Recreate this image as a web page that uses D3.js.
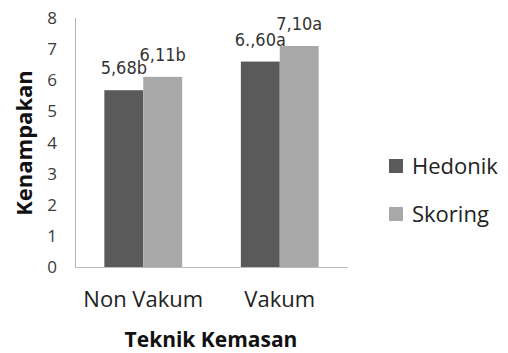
<!DOCTYPE html>
<html>
<head>
<meta charset="utf-8">
<script src="https://cdn.jsdelivr.net/npm/d3@7"></script>
<style>
  html, body { margin: 0; padding: 0; background: #fff; }
</style>
</head>
<body>
<div id="chart"></div>
<script>
  const categories = ["Non Vakum", "Vakum"];
  const seriesNames = ["Hedonik", "Skoring"];
  const hedonik = [5.68, 6.60];
  const skoring = [6.11, 7.10];
  const hedonikLabels = ["5,68b", "6.,60a"];
  const skoringLabels = ["6,11b", "7,10a"];
  const yTicks = [0, 1, 2, 3, 4, 5, 6, 7, 8];

  const colors = { Hedonik: "#5a5a5a", Skoring: "#a8a8a8" };

  const width = 508, height = 353;
  const margin = { top: 18, right: 160, bottom: 86, left: 75 };
  const innerW = width - margin.left - margin.right;
  const innerH = height - margin.top - margin.bottom;

  const svg = d3.select("#chart").append("svg")
    .attr("width", width)
    .attr("height", height);

  const g = svg.append("g")
    .attr("transform", `translate(${margin.left},${margin.top})`);

  const x = d3.scaleBand().domain(categories).range([0, innerW]).paddingInner(0.43).paddingOuter(0.215);
  const xs = d3.scaleBand().domain(seriesNames).range([0, x.bandwidth()]);
  const y = d3.scaleLinear().domain([0, 8]).range([innerH, 0]);

  // axis lines (no tick marks in the original)
  g.append("line")
    .attr("x1", 0.5).attr("x2", 0.5).attr("y1", y(8)).attr("y2", innerH)
    .attr("stroke", "#b4b4b4").attr("stroke-width", 1);
  g.append("line")
    .attr("x1", 0).attr("x2", innerW).attr("y1", innerH + 0.5).attr("y2", innerH + 0.5)
    .attr("stroke", "#bdbdbd").attr("stroke-width", 1);

  // y tick labels
  g.selectAll("text.ytick")
    .data(yTicks)
    .enter().append("text")
    .attr("class", "ytick")
    .attr("x", -18)
    .attr("y", d => y(d))
    .attr("dy", "0.36em")
    .attr("text-anchor", "end")
    .attr("font-family", "Open Sans")
    .attr("font-size", 17)
    .attr("fill", "#3a3a3a")
    .text(d => d);

  const rows = categories.map((c, i) => ({
    cat: c,
    vals: [
      { s: "Hedonik", v: hedonik[i], label: hedonikLabels[i] },
      { s: "Skoring", v: skoring[i], label: skoringLabels[i] }
    ]
  }));

  const grp = g.selectAll("g.grp")
    .data(rows)
    .enter().append("g")
    .attr("class", "grp")
    .attr("transform", d => `translate(${x(d.cat)},0)`);

  grp.selectAll("rect")
    .data(d => d.vals)
    .enter().append("rect")
    .attr("x", d => xs(d.s))
    .attr("y", d => y(d.v))
    .attr("width", xs.bandwidth())
    .attr("height", d => innerH - y(d.v))
    .attr("fill", d => colors[d.s]);

  // value labels, narrow Verdana-like face
  grp.selectAll("text.val")
    .data(d => d.vals)
    .enter().append("text")
    .attr("class", "val")
    .attr("x", d => xs(d.s) + xs.bandwidth() / 2)
    .attr("y", d => y(d.v) - 16)
    .attr("text-anchor", "middle")
    .attr("font-family", "DejaVu Sans Condensed, DejaVu Sans")
    .attr("font-stretch", "condensed")
    .attr("font-size", 18)
    .attr("fill", "#333")
    .text(d => d.label);

  // category labels
  g.selectAll("text.cat")
    .data(categories)
    .enter().append("text")
    .attr("class", "cat")
    .attr("x", d => x(d) + x.bandwidth() / 2)
    .attr("y", innerH + 40)
    .attr("text-anchor", "middle")
    .attr("font-family", "Open Sans")
    .attr("font-size", 22)
    .attr("fill", "#222")
    .text(d => d);

  // x title
  svg.append("text")
    .attr("x", 211)
    .attr("y", 347)
    .attr("text-anchor", "middle")
    .attr("font-family", "Open Sans")
    .attr("font-weight", "bold")
    .attr("font-size", 21)
    .attr("fill", "#111")
    .text("Teknik Kemasan");

  // y title
  svg.append("text")
    .attr("transform", "translate(32,143) rotate(-90)")
    .attr("text-anchor", "middle")
    .attr("font-family", "Open Sans")
    .attr("font-weight", "bold")
    .attr("font-size", 22)
    .attr("fill", "#111")
    .text("Kenampakan");

  // legend
  const legend = svg.append("g").attr("transform", "translate(389,159)");
  const li = legend.selectAll("g")
    .data(seriesNames)
    .enter().append("g")
    .attr("transform", (d, i) => `translate(0,${i * 48})`);
  li.append("rect")
    .attr("width", 14).attr("height", 14)
    .attr("fill", d => colors[d]);
  li.append("text")
    .attr("x", 23)
    .attr("y", 15)
    .attr("font-family", "Open Sans")
    .attr("font-size", 22)
    .attr("fill", "#222")
    .text(d => d);
</script>
</body>
</html>
